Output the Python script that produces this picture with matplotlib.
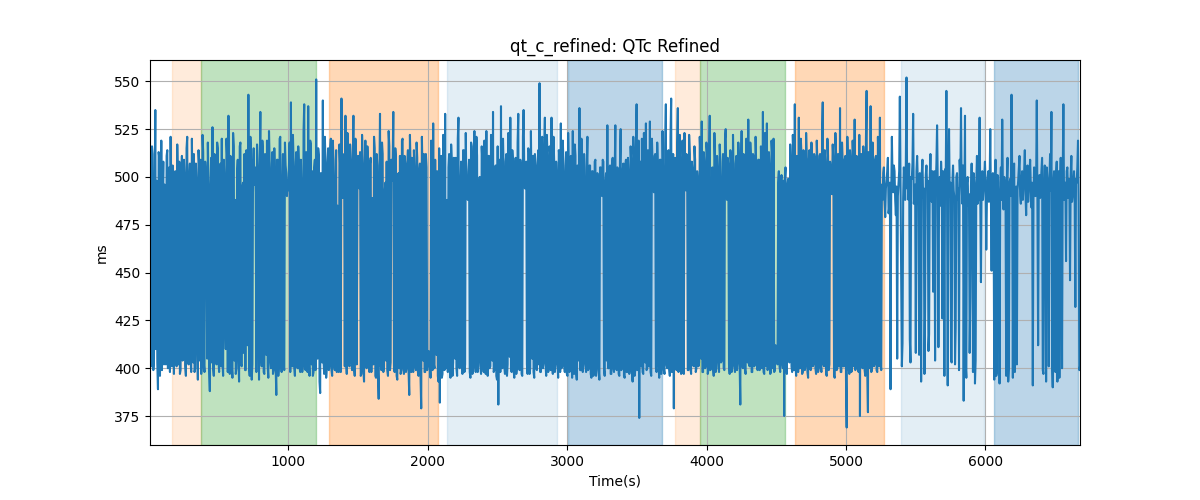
import numpy as np
import matplotlib
matplotlib.use("Agg")
import matplotlib.pyplot as plt

# QTc samples (ms), blocks of 50 beats;
# each "*2" list holds the beats that fall between those of its partner
qtc_a = [462, 401, 512, 405, 535, 498, 389, 510, 447, 399,
         508, 496, 402, 514, 487, 398, 470, 506, 397, 503,
         401, 495, 508, 399, 511, 405, 500, 396, 521, 402,
         507, 398, 489, 512, 400, 497, 394, 506, 509, 401,
         513, 398, 502, 405, 495, 388, 510, 526, 396, 504]
qtc_a2 = [478, 516, 399, 492, 410, 403, 513, 396, 519, 488,
          402, 409, 511, 400, 505, 521, 401, 499, 486, 408,
          517, 402, 397, 494, 404, 509, 401, 515, 410, 499,
          405, 520, 403, 398, 507, 415, 514, 404, 397, 522,
          402, 508, 466, 518, 399, 495, 403, 400, 512, 412]
qtc_b = [402, 515, 398, 507, 520, 396, 499, 410, 511, 532,
         397, 504, 395, 516, 488, 400, 509, 393, 518, 401,
         497, 512, 399, 505, 543, 396, 508, 402, 515, 505,
         398, 506, 394, 534, 401, 511, 397, 502, 519, 395,
         507, 400, 513, 399, 490, 386, 509, 403, 521, 398]
qtc_b2 = [518, 404, 494, 401, 403, 509, 425, 520, 398, 405,
          511, 401, 523, 404, 397, 502, 406, 516, 402, 495,
          408, 399, 514, 412, 401, 521, 394, 507, 496, 492,
          517, 437, 500, 409, 519, 398, 512, 407, 401, 524,
          404, 503, 397, 515, 401, 509, 396, 520, 406, 495]
qtc_c = [512, 399, 506, 490, 493, 518, 539, 401, 508, 396,
         513, 400, 505, 398, 494, 402, 538, 399, 510, 537,
         396, 517, 503, 398, 509, 551, 405, 511, 387, 499,
         540, 397, 508, 402, 515, 401, 520, 396, 509, 399,
         514, 485, 398, 506, 541, 489, 512, 532, 397, 503]
qtc_c2 = [401, 518, 502, 498, 505, 398, 403, 522, 401, 504,
          407, 516, 400, 509, 398, 524, 401, 513, 398, 405,
          519, 402, 396, 505, 399, 408, 515, 393, 502, 403,
          404, 521, 395, 506, 399, 514, 399, 519, 402, 497,
          398, 403, 517, 398, 497, 510, 401, 406, 523, 402]
qtc_d = [401, 508, 399, 532, 396, 511, 492, 498, 513, 397,
         507, 393, 519, 400, 505, 398, 510, 489, 402, 515,
         395, 506, 384, 533, 399, 512, 401, 497, 508, 396,
         516, 403, 498, 534, 398, 509, 394, 502, 511, 399,
         520, 397, 507, 400, 514, 386, 505, 510, 398, 503]
qtc_d2 = [517, 403, 505, 400, 520, 402, 511, 494, 396, 522,
          399, 505, 401, 516, 402, 507, 398, 404, 521, 396,
          512, 398, 496, 402, 518, 398, 492, 404, 399, 524,
          399, 509, 505, 401, 515, 396, 501, 400, 397, 519,
          401, 511, 398, 505, 398, 522, 398, 401, 514, 401]
qtc_e = [399, 510, 396, 507, 379, 501, 512, 398, 505, 402,
         401, 395, 509, 528, 400, 448, 503, 393, 382, 511,
         397, 506, 533, 401, 398, 512, 395, 507, 403, 499,
         510, 396, 531, 400, 508, 397, 514, 402, 493, 488,
         509, 395, 516, 401, 524, 398, 511, 404, 500, 397]
qtc_e2 = [518, 398, 503, 395, 521, 404, 398, 512, 399, 409,
          403, 519, 399, 402, 509, 407, 396, 515, 503, 395,
          522, 399, 400, 488, 505, 399, 517, 396, 510, 405,
          400, 520, 401, 496, 402, 514, 398, 523, 500, 503,
          398, 518, 397, 509, 402, 521, 398, 496, 401, 516]
qtc_f = [508, 398, 502, 524, 396, 511, 401, 497, 534, 399,
         506, 394, 381, 509, 537, 400, 503, 397, 512, 402,
         495, 531, 398, 507, 395, 510, 401, 533, 399, 504,
         396, 535, 494, 508, 397, 513, 400, 489, 511, 395,
         506, 399, 514, 549, 398, 521, 403, 531, 396, 509]
qtc_f2 = [401, 519, 397, 401, 511, 400, 522, 404, 398, 503,
          396, 516, 500, 398, 402, 520, 401, 508, 396, 523,
          406, 400, 514, 399, 503, 397, 518, 402, 509, 397,
          521, 503, 497, 402, 515, 397, 524, 405, 398, 512,
          400, 505, 402, 398, 519, 400, 510, 402, 522, 398]
qtc_g = [400, 512, 531, 397, 508, 402, 499, 395, 510, 528,
         401, 506, 398, 513, 396, 503, 400, 509, 524, 397,
         511, 394, 505, 536, 399, 507, 402, 496, 398, 521,
         400, 506, 395, 503, 398, 509, 401, 497, 394, 505,
         490, 508, 396, 502, 527, 400, 506, 397, 510, 398]
qtc_g2 = [516, 399, 401, 521, 398, 508, 403, 514, 398, 400,
          519, 403, 501, 397, 523, 398, 511, 395, 401, 517,
          398, 506, 404, 399, 520, 398, 512, 403, 505, 399,
          506, 397, 503, 396, 508, 396, 502, 399, 505, 497,
          509, 399, 497, 404, 400, 504, 397, 507, 400, 501]
qtc_h = [527, 399, 504, 396, 525, 401, 507, 395, 509, 398,
         502, 400, 506, 393, 511, 399, 538, 402, 374, 508,
         520, 397, 505, 528, 400, 510, 529, 396, 507, 492,
         512, 398, 503, 395, 509, 402, 499, 397, 538, 400,
         514, 396, 541, 403, 379, 510, 399, 536, 401, 507]
qtc_h2 = [401, 505, 397, 508, 399, 503, 396, 506, 398, 510,
          397, 516, 398, 521, 396, 512, 399, 519, 497, 401,
          398, 523, 403, 399, 514, 401, 398, 520, 495, 511,
          400, 518, 402, 509, 397, 524, 399, 515, 402, 497,
          400, 521, 398, 512, 499, 403, 517, 398, 522, 397]
qtc_i = [398, 510, 523, 493, 506, 399, 512, 397, 504, 401,
         509, 400, 498, 403, 511, 529, 398, 507, 401, 513,
         399, 532, 402, 505, 396, 510, 400, 503, 398, 508,
         404, 512, 399, 525, 488, 506, 397, 509, 402, 500,
         398, 511, 403, 507, 381, 524, 400, 508, 397, 504]
qtc_i2 = [519, 397, 499, 512, 399, 522, 400, 508, 402, 516,
          398, 503, 401, 521, 405, 398, 513, 400, 518, 397,
          509, 399, 496, 401, 523, 398, 511, 404, 517, 403,
          497, 400, 520, 495, 510, 402, 514, 398, 522, 401,
          507, 399, 518, 402, 498, 401, 512, 399, 520, 403]
qtc_j = [530, 401, 508, 398, 511, 402, 504, 399, 509, 400,
         506, 534, 397, 510, 528, 401, 505, 398, 512, 520,
         399, 405, 402, 503, 398, 501, 400, 375, 505, 397,
         499, 403, 506, 398, 510, 538, 396, 507, 531, 400,
         512, 398, 505, 401, 509, 395, 514, 399, 506, 402]
qtc_j2 = [402, 518, 398, 512, 401, 521, 403, 509, 399, 516,
          400, 398, 523, 401, 399, 513, 397, 519, 400, 398,
          412, 404, 497, 401, 496, 403, 498, 499, 402, 496,
          404, 517, 401, 522, 399, 402, 511, 398, 400, 520,
          397, 514, 399, 523, 398, 508, 400, 518, 401, 512]
qtc_k = [510, 397, 507, 400, 512, 398, 539, 401, 506, 396,
         511, 402, 504, 491, 509, 395, 513, 400, 505, 536,
         398, 508, 401, 511, 369, 503, 397, 510, 399, 506,
         530, 401, 508, 398, 375, 512, 400, 507, 396, 545,
         377, 509, 537, 399, 506, 402, 511, 398, 505, 531]
qtc_k2 = [400, 519, 398, 511, 401, 522, 402, 514, 397, 520,
          399, 508, 497, 517, 396, 523, 399, 512, 401, 398,
          518, 401, 509, 394, 521, 400, 514, 398, 519, 401,
          399, 511, 400, 522, 497, 401, 516, 399, 520, 398,
          513, 400, 398, 518, 401, 509, 399, 521, 401, 403]
qtc_l = [399, 488, 505, 479, 498, 510, 484, 389, 521, 492,
         503, 480, 405, 497, 542, 459, 413, 505, 488, 552,
         496, 507, 403, 499, 533, 490, 408, 511, 485, 502,
         393, 509, 494, 431, 506, 498, 418, 512, 487, 440,
         503, 495, 527, 411, 500, 508, 426, 491, 504, 545]
qtc_l2 = [496, 502, 487, 494, 503, 481, 497, 490, 499, 506,
          488, 495, 490, 503, 497, 401, 489, 499, 507, 494,
          488, 415, 500, 507, 486, 496, 503, 497, 407, 495,
          502, 489, 397, 501, 495, 409, 500, 493, 503, 492,
          404, 507, 498, 492, 485, 499, 503, 396, 498, 489]
qtc_m = [391, 525, 497, 403, 506, 489, 421, 502, 494, 509,
         536, 486, 383, 532, 395, 500, 491, 437, 507, 398,
         496, 404, 511, 488, 531, 445, 503, 493, 508, 462,
         499, 487, 525, 451, 502, 394, 509, 398, 492, 392,
         505, 530, 483, 497, 396, 510, 401, 499, 543, 395]
qtc_m2 = [498, 490, 404, 497, 493, 402, 500, 488, 399, 497,
          495, 506, 489, 402, 497, 485, 408, 495, 489, 502,
          392, 497, 486, 503, 490, 498, 488, 501, 495, 489,
          503, 494, 489, 497, 486, 498, 396, 501, 491, 497,
          488, 494, 500, 489, 499, 393, 497, 490, 500, 506]
qtc_n = [507, 488, 402, 498, 511, 486, 503, 495, 514, 480,
         506, 492, 509, 484, 391, 505, 490, 540, 412, 501,
         496, 510, 397, 506, 393, 499, 401, 512, 534, 390,
         503, 398, 508, 487, 395, 510, 400, 538, 494, 456,
         505, 499, 446, 511, 490, 503, 432, 497, 519, 399]
qtc_n2 = [398, 495, 493, 505, 490, 497, 488, 503, 491, 499,
          487, 502, 495, 497, 488, 492, 497, 485, 496, 489,
          503, 399, 497, 490, 505, 488, 498, 493, 404, 497,
          489, 500, 393, 503, 498, 487, 501, 488, 497, 503,
          489, 494, 501, 487, 496, 489, 499, 505, 487, 401]

blocks = [(qtc_a, qtc_a2), (qtc_b, qtc_b2), (qtc_c, qtc_c2), (qtc_d, qtc_d2),
          (qtc_e, qtc_e2), (qtc_f, qtc_f2), (qtc_g, qtc_g2), (qtc_h, qtc_h2),
          (qtc_i, qtc_i2), (qtc_j, qtc_j2), (qtc_k, qtc_k2), (qtc_l, qtc_l2),
          (qtc_m, qtc_m2), (qtc_n, qtc_n2)]
qtc = np.concatenate([np.column_stack([p, q]).ravel() for p, q in blocks])
t_start, t_end = 7, 6679
time_s = np.linspace(t_start, t_end, len(qtc))

# shaded phases (seconds)
phase_start = [163, 374, 1288, 2141, 3009, 3777, 3950, 4633, 5396, 6060]
phase_end = [374, 1199, 2070, 2925, 3681, 3950, 4561, 5271, 5990, 6667]
phase_kind = ["a", "b", "c", "d", "e", "a", "b", "c", "d", "e"]
phase_style = {
    "a": ("tab:orange", 0.15),
    "b": ("tab:green", 0.3),
    "c": ("tab:orange", 0.3),
    "d": ("tab:blue", 0.12),
    "e": ("tab:blue", 0.3),
}

fig, ax = plt.subplots(figsize=(12, 5), dpi=100)
for s, e, k in zip(phase_start, phase_end, phase_kind):
    c, a = phase_style[k]
    ax.axvspan(s, e, color=c, alpha=a)
ax.plot(time_s, qtc, color="tab:blue", linewidth=1.5)
ax.set_xlim(t_start, t_end)
ax.set_title("qt_c_refined: QTc Refined")
ax.set_xlabel("Time(s)")
ax.set_ylabel("ms")
ax.grid(True)
fig.savefig("out.png", dpi=100)
